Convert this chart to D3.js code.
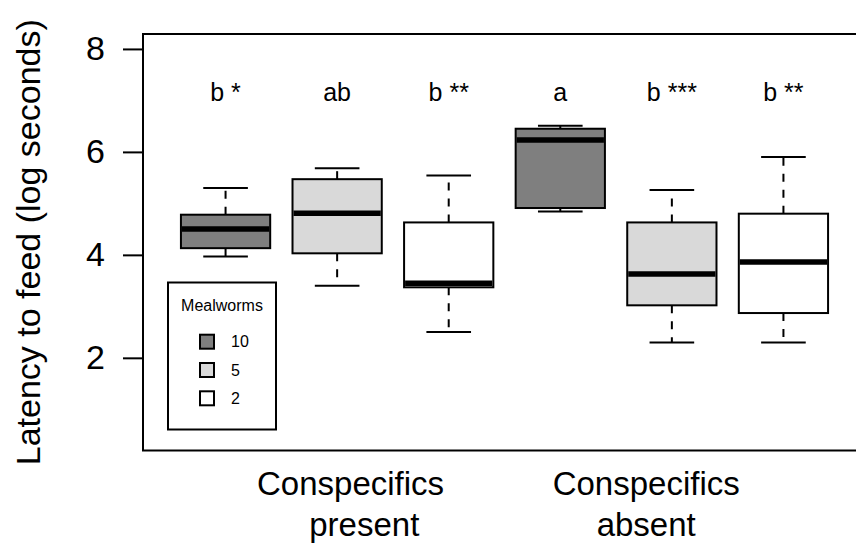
<!DOCTYPE html>
<html>
<head>
<meta charset="utf-8">
<script src="https://cdn.jsdelivr.net/npm/d3@7"></script>
<style>
  body { margin: 0; background: #fff; }
  text { font-family: "Liberation Sans", Arial, Helvetica, sans-serif; fill: #000; }
</style>
</head>
<body>
<div class="chart"></div>
<script>
var svgWidth = 856;
var svgHeight = 544;

// box statistics, one entry per box (left to right)
var lowWhisker  = [3.97, 3.40, 2.50, 4.84, 2.30, 2.30];
var lowerQ      = [4.13, 4.03, 3.37, 4.91, 3.02, 2.87];
var medians     = [4.50, 4.81, 3.45, 6.23, 3.63, 3.86];
var upperQ      = [4.78, 5.47, 4.63, 6.45, 4.63, 4.80];
var highWhisker = [5.30, 5.68, 5.54, 6.51, 5.26, 5.90];
var boxLevel    = [0, 1, 2, 0, 1, 2];   // index into mealworms
var letters     = ["b *", "ab", "b **", "a", "b ***", "b **"];

var mealworms   = ["10", "5", "2"];
var groupLines  = [["Conspecifics", "   present"], ["Conspecifics", "absent"]];
var groupAt     = [2.12, 4.77];
var yTicks      = [2, 4, 6, 8];

var fills = ["#7f7f7f", "#d9d9d9", "#ffffff"];

var plot = { left: 143, top: 34, bottom: 450.5, right: 866 };

var svg = d3.select(".chart")
  .append("svg")
  .attr("width", svgWidth)
  .attr("height", svgHeight);

var x = d3.scaleLinear()
  .domain([0.26, 6.74])
  .range([plot.left, plot.right]);

var y = d3.scaleLinear()
  .domain([0.2, 8.29])
  .range([plot.bottom, plot.top]);

var boxes = medians.map(function(m, i) {
  return { pos: i + 1, lo: lowWhisker[i], q1: lowerQ[i], med: m, q3: upperQ[i], hi: highWhisker[i], lvl: boxLevel[i], lab: letters[i] };
});

var halfBox = (x(1.4) - x(1));
var halfCap = halfBox / 2;

var g = svg.selectAll(".box")
  .data(boxes)
  .enter()
  .append("g")
  .attr("class", "box");

// dashed whiskers, drawn from the box edge outwards
g.append("line")
  .attr("x1", d => x(d.pos)).attr("x2", d => x(d.pos))
  .attr("y1", d => y(d.q1)).attr("y2", d => y(d.lo))
  .attr("stroke", "#000").attr("stroke-width", 2).attr("stroke-dasharray", "8,8");
g.append("line")
  .attr("x1", d => x(d.pos)).attr("x2", d => x(d.pos))
  .attr("y1", d => y(d.q3)).attr("y2", d => y(d.hi))
  .attr("stroke", "#000").attr("stroke-width", 2).attr("stroke-dasharray", "8,8");

// staples
g.append("line")
  .attr("x1", d => x(d.pos) - halfCap).attr("x2", d => x(d.pos) + halfCap)
  .attr("y1", d => y(d.lo)).attr("y2", d => y(d.lo))
  .attr("stroke", "#000").attr("stroke-width", 2);
g.append("line")
  .attr("x1", d => x(d.pos) - halfCap).attr("x2", d => x(d.pos) + halfCap)
  .attr("y1", d => y(d.hi)).attr("y2", d => y(d.hi))
  .attr("stroke", "#000").attr("stroke-width", 2);

// boxes
g.append("rect")
  .attr("x", d => x(d.pos) - halfBox)
  .attr("width", halfBox * 2)
  .attr("y", d => y(d.q3))
  .attr("height", d => y(d.q1) - y(d.q3))
  .attr("fill", d => fills[d.lvl])
  .attr("stroke", "#000")
  .attr("stroke-width", 2);

// medians
g.append("line")
  .attr("x1", d => x(d.pos) - halfBox + 1).attr("x2", d => x(d.pos) + halfBox - 1)
  .attr("y1", d => y(d.med)).attr("y2", d => y(d.med))
  .attr("stroke", "#000").attr("stroke-width", 5.5);

// significance letters
g.append("text")
  .attr("x", d => x(d.pos))
  .attr("y", y(7.15))
  .attr("dy", "0.35em")
  .attr("text-anchor", "middle")
  .style("font-size", "25px")
  .text(d => d.lab);

// frame
svg.append("rect")
  .attr("x", plot.left)
  .attr("y", plot.top)
  .attr("width", plot.right + 10 - plot.left)
  .attr("height", plot.bottom - plot.top)
  .attr("fill", "none")
  .attr("stroke", "#000")
  .attr("stroke-width", 2);

// y axis
var leftAxis = d3.axisLeft(y).tickValues(yTicks).tickSize(20).tickPadding(18).tickFormat(d3.format("d"));
var yAxis = svg.append("g")
  .attr("transform", `translate(${plot.left}, 0)`)
  .call(leftAxis);
yAxis.select(".domain").remove();
yAxis.selectAll(".tick line").attr("stroke", "#000").attr("stroke-width", 2);
yAxis.selectAll(".tick text")
  .attr("fill", "#000")
  .style("font-size", "34px")
  .style("font-family", "'Liberation Sans', Arial, Helvetica, sans-serif");

svg.append("text")
  .attr("transform", `translate(40, ${(plot.top + plot.bottom) / 2}) rotate(-90)`)
  .attr("text-anchor", "middle")
  .style("font-size", "34px")
  .text("Latency to feed (log seconds)");

// group labels under the plot
groupLines.forEach(function(lines, i) {
  var t = svg.append("text")
    .attr("text-anchor", "middle")
    .attr("xml:space", "preserve")
    .style("white-space", "pre")
    .style("font-size", "33px");
  lines.forEach(function(s, j) {
    t.append("tspan")
      .attr("x", x(groupAt[i]))
      .attr("y", 495 + j * 40.5)
      .text(s);
  });
});

// legend
var legend = svg.append("g");
legend.append("rect")
  .attr("x", 168).attr("y", 282.5)
  .attr("width", 108).attr("height", 147)
  .attr("fill", "#fff").attr("stroke", "#000").attr("stroke-width", 2);
legend.append("text")
  .attr("x", 222).attr("y", 311)
  .attr("text-anchor", "middle")
  .style("font-size", "16px")
  .text("Mealworms");
var items = legend.selectAll(".item")
  .data(mealworms)
  .enter()
  .append("g")
  .attr("transform", (d, i) => `translate(0, ${341.7 + i * 28.3})`);
items.append("rect")
  .attr("x", 200).attr("y", -7)
  .attr("width", 14).attr("height", 14)
  .attr("fill", (d, i) => fills[i])
  .attr("stroke", "#000").attr("stroke-width", 2);
items.append("text")
  .attr("x", 231).attr("y", 0)
  .attr("dy", "0.36em")
  .style("font-size", "16px")
  .text(d => d);
</script>
</body>
</html>
